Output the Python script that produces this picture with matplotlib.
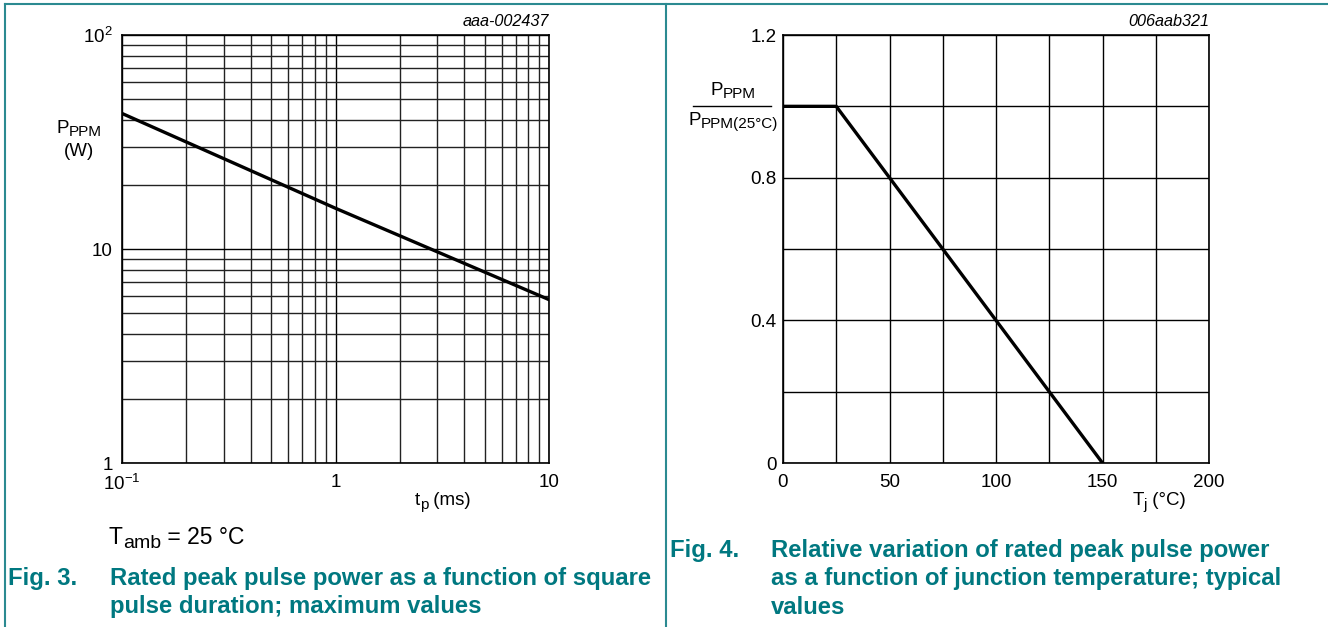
import numpy as np
import matplotlib.pyplot as plt
from matplotlib.lines import Line2D
from matplotlib.ticker import FixedLocator, FixedFormatter, NullFormatter

plt.rcParams['font.family'] = ['Liberation Sans', 'DejaVu Sans']
plt.rcParams['mathtext.fontset'] = 'custom'
plt.rcParams['mathtext.rm'] = 'Liberation Sans'
plt.rcParams['mathtext.it'] = 'Liberation Sans:italic'

# Data: Fig. 3 (log-log, max values)
tp_ms = [0.1, 1, 10]
ppm_w = [43.0, 15.5, 5.8]

# Data: Fig. 4 (derating)
tj_c = [0, 25, 150]
ppm_rel = [1.0, 1.0, 0.0]

W, H = 1328, 627
fig = plt.figure(figsize=(W / 100, H / 100), dpi=100)
teal = '#007880'
border = '#2b8a91'
renderer = fig.canvas.get_renderer()


def px_axes(x0, x1, y0, y1):
    # axes box from pixel coords (y measured from top)
    return fig.add_axes([x0 / W, 1 - y1 / H, (x1 - x0) / W, (y1 - y0) / H])


def rich(x, y, parts, ha='left', **kw):
    # parts: (text, size, shift down in px); y is the baseline, px from top
    texts = []
    cur = x
    for s, size, dy in parts:
        t = fig.text(cur / W, 1 - (y + dy) / H, s, fontsize=size, ha='left',
                     va='baseline', **kw)
        cur += t.get_window_extent(renderer).width
        texts.append(t)
    shift = {'left': 0, 'center': (cur - x) / 2, 'right': cur - x}[ha]
    for t in texts:
        px, py = t.get_position()
        t.set_position((px - shift / W, py))


# ---- left chart
ax1 = px_axes(122, 549, 35, 463)
ax1.set_xscale('log')
ax1.set_yscale('log')
ax1.plot(tp_ms, ppm_w, color='black', linewidth=2.4)
ax1.set_xlim(0.1, 10)
ax1.set_ylim(1, 100)
ax1.xaxis.set_major_locator(FixedLocator([0.1, 1, 10]))
ax1.xaxis.set_major_formatter(FixedFormatter([r'$\mathregular{10^{-1}}$', '1', '10']))
ax1.yaxis.set_major_locator(FixedLocator([1, 10, 100]))
ax1.yaxis.set_major_formatter(FixedFormatter(['1', '10', r'$\mathregular{10^{2}}$']))
ax1.xaxis.set_minor_locator(FixedLocator([m * d for d in (0.1, 1) for m in range(2, 10)]))
ax1.yaxis.set_minor_locator(FixedLocator([m * d for d in (1, 10) for m in range(2, 10)]))
ax1.xaxis.set_minor_formatter(NullFormatter())
ax1.yaxis.set_minor_formatter(NullFormatter())
ax1.grid(True, which='major', color='black', linewidth=1.0)
ax1.grid(True, which='minor', color='#222222', linewidth=1.0)
ax1.text(1.0, 1.015, 'aaa-002437', transform=ax1.transAxes, ha='right', va='bottom',
         fontsize=11.7, style='italic')

# ---- right chart
ax2 = px_axes(783, 1209, 35, 463)
ax2.plot(tj_c, ppm_rel, color='black', linewidth=2.4)
ax2.set_xlim(0, 200)
ax2.set_ylim(0, 1.2)
ax2.set_xticks([0, 50, 100, 150, 200])
ax2.set_yticks([0, 0.4, 0.8, 1.2])
ax2.set_yticklabels(['0', '0.4', '0.8', '1.2'])
ax2.set_xticks(np.arange(25, 200, 50), minor=True)
ax2.set_yticks([0.2, 0.6, 1.0], minor=True)
ax2.grid(True, which='both', color='black', linewidth=1.0)
ax2.text(1.0, 1.015, '006aab321', transform=ax2.transAxes, ha='right', va='bottom',
         fontsize=11.7, style='italic')

for ax, ypad in ((ax1, 6.5), (ax2, 4.5)):
    ax.tick_params(which='both', length=0, labelsize=13.5)
    ax.tick_params(axis='x', pad=8)
    ax.tick_params(axis='y', pad=ypad)
    for s in ax.spines.values():
        s.set_linewidth(1.2)
    ax.set_axisbelow(True)

# ---- axis labels
rich(79, 133, [('P', 13.5, 0), ('PPM', 11, 3.5)], ha='center')
fig.text(79 / W, 1 - 151 / H, '(W)', fontsize=13.5, ha='center', va='center')
rich(443, 505, [('t', 13.5, 0), ('p', 11, 4), (' (ms)', 13.5, 0)], ha='center')
rich(1159, 505, [('T', 13.5, 0), ('j', 11, 4), (' (°C)', 13.5, 0)], ha='center')
rich(733, 95, [('P', 13.5, 0), ('PPM', 11, 3)], ha='center')
rich(733, 125, [('P', 13.5, 0), ('PPM(25°C)', 11, 3)], ha='center')
fig.add_artist(Line2D([693 / W, 771 / W], [1 - 106 / H, 1 - 106 / H], color='black',
                      linewidth=1.0))

# ---- notes and captions
rich(109, 544, [('T', 16.5, 0), ('amb', 14, 4), (' = 25 °C', 16.5, 0)])

cap = dict(fontsize=17.2, weight='bold', color=teal, va='center')
fig.text(8 / W, 1 - 578 / H, 'Fig. 3.', **cap)
for line, yy in zip(['Rated peak pulse power as a function of square',
                     'pulse duration; maximum values'], [578, 606]):
    fig.text(110 / W, 1 - yy / H, line, **cap)
fig.text(670 / W, 1 - 550 / H, 'Fig. 4.', **cap)
for line, yy in zip(['Relative variation of rated peak pulse power',
                     'as a function of junction temperature; typical',
                     'values'], [550, 579, 607]):
    fig.text(771 / W, 1 - yy / H, line, **cap)

# ---- frame lines
fig.add_artist(Line2D([5 / W, 1], [1 - 4 / H, 1 - 4 / H], color=border, linewidth=1.5))
fig.add_artist(Line2D([5 / W, 5 / W], [0, 1 - 4 / H], color=border, linewidth=1.5))
fig.add_artist(Line2D([666 / W, 666 / W], [0, 1 - 4 / H], color=border, linewidth=1.5))

fig.savefig('out.png', dpi=100)
